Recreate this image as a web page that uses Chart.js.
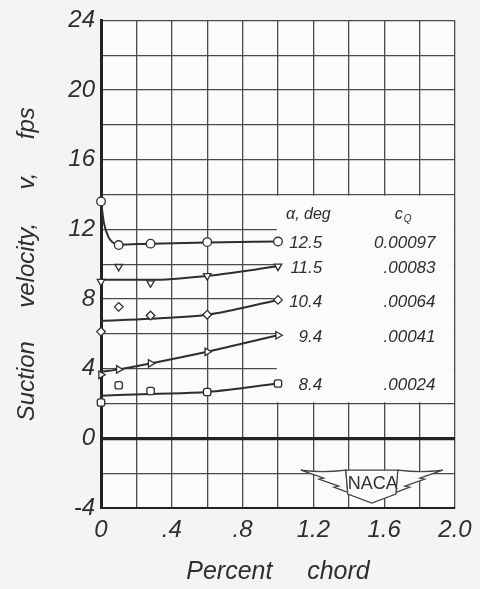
<!DOCTYPE html>
<html>
<head>
<meta charset="utf-8">
<script src="https://cdn.jsdelivr.net/npm/chart.js@4/dist/chart.umd.min.js"></script>
<style>
  html, body { margin: 0; padding: 0; background: #f4f4f3; }
  canvas { display: block; }
</style>
</head>
<body>
<canvas id="c" width="480" height="589"></canvas>
<script>
// ---- data ----
const markerX = [0, 0.1, 0.28, 0.6, 1.0];
const alphaLabels = ['12.5', '11.5', '10.4', '9.4', '8.4'];
const cqLabels = ['0.00097', '.00083', '.00064', '.00041', '.00024'];

const v125 = [13.6, 11.1, 11.18, 11.27, 11.3];
const v115 = [9.0, 9.86, 8.92, 9.33, 9.88];
const v104 = [6.13, 7.55, 7.05, 7.1, 7.95];
const v94  = [3.65, 3.96, 4.3, 4.97, 5.92];
const v84  = [2.06, 3.05, 2.72, 2.66, 3.15];

// faired curves
const fairX125 = [0, 0.016, 0.04, 0.067, 0.1, 0.28, 0.6, 1.0];
const fairV125 = [13.6, 12.4, 11.6, 11.25, 11.12, 11.18, 11.25, 11.3];
const fairX = [0, 0.28, 0.6, 1.0];
const fairV115 = [9.1, 9.1, 9.33, 9.88];
const fairV104 = [6.75, 6.87, 7.1, 7.95];
const fairX94 = [0, 0.1, 0.28, 0.6, 1.0];
const fairV94 = [3.82, 3.96, 4.3, 4.97, 5.92];
const fairV84 = [2.45, 2.55, 2.66, 3.15];

const xTickLabels = { '0': '0', '0.4': '.4', '0.8': '.8', '1.2': '1.2', '1.6': '1.6', '2': '2.0' };
const yTickValues = [-4, 0, 4, 8, 12, 16, 20, 24];

// ---- build ----
const INK = '#2e2e2e';
const FONT = '"Liberation Sans", Arial, sans-serif';
const pts = (xs, ys) => xs.map((x, i) => ({ x: x, y: ys[i] }));

const markerSets = [v125, v115, v104, v94, v84];
const markerStyles = [
  { style: 'circle', rot: 0 },
  { style: 'triangle', rot: 180 },
  { style: 'rectRot', rot: 0 },
  { style: 'triangle', rot: 90 },
  { style: 'rectRounded', rot: 0 }
];
const fairs = [
  pts(fairX125, fairV125),
  pts(fairX, fairV115),
  pts(fairX, fairV104),
  pts(fairX94, fairV94),
  pts(fairX, fairV84)
];

const datasets = [];
fairs.forEach(f => datasets.push({
  type: 'line', data: f, showLine: true, borderColor: INK, borderWidth: 2,
  pointRadius: 0, cubicInterpolationMode: 'monotone', fill: false, order: 2, clip: false
}));
markerSets.forEach((s, i) => datasets.push({
  type: 'scatter', data: pts(markerX, s), showLine: false,
  pointStyle: markerStyles[i].style, rotation: markerStyles[i].rot,
  pointRadius: 4.3, pointBackgroundColor: '#ffffff', pointBorderColor: INK,
  pointBorderWidth: 1.3, order: 1, clip: false
}));

const bgPlugin = {
  id: 'bg',
  beforeDraw(chart) {
    const { ctx, chartArea: a } = chart;
    ctx.save();
    ctx.fillStyle = '#f4f4f3';
    ctx.fillRect(0, 0, chart.width, chart.height);
    ctx.fillStyle = '#fbfbfa';
    ctx.fillRect(a.left, a.top, a.right - a.left, a.bottom - a.top);
    ctx.restore();
  },
  beforeDatasetsDraw(chart) {
    // blank panel for the key (grid interrupted there)
    const { ctx } = chart;
    const xs = chart.scales.x, ys = chart.scales.y;
    const l = xs.getPixelForValue(1.0) - 1.2, r = xs.getPixelForValue(2.0) - 1.2;
    const t = ys.getPixelForValue(14) + 1.2, b = ys.getPixelForValue(2) - 1.2;
    ctx.save();
    ctx.fillStyle = '#fbfbfa';
    ctx.fillRect(l, t, r - l, b - t);
    ctx.restore();
  },
  afterDatasetsDraw(chart) {
    const { ctx } = chart;
    const xs = chart.scales.x, ys = chart.scales.y;
    ctx.save();
    ctx.fillStyle = INK;
    ctx.textBaseline = 'middle';
    // header
    const hy = ys.getPixelForValue(12.85);
    ctx.font = 'italic 16px ' + FONT;
    ctx.textAlign = 'left';
    ctx.fillText('\u03B1, deg', xs.getPixelForValue(1.0) + 8, hy);
    ctx.fillText('c', xs.getPixelForValue(1.66), hy);
    ctx.font = 'italic 10px ' + FONT;
    ctx.fillText('Q', xs.getPixelForValue(1.66) + 9, hy + 5);
    // rows
    ctx.font = 'italic 17px ' + FONT;
    markerSets.forEach((s, i) => {
      const y = ys.getPixelForValue(s[s.length - 1]) + 2;
      ctx.textAlign = 'right';
      ctx.fillText(alphaLabels[i], xs.getPixelForValue(1.25), y);
      ctx.fillText(cqLabels[i], xs.getPixelForValue(1.89), y);
    });
    ctx.restore();
  },
  afterDraw(chart) {
    // NACA emblem
    const { ctx } = chart;
    const xs = chart.scales.x, ys = chart.scales.y;
    const cx = xs.getPixelForValue(1.53), cy = ys.getPixelForValue(-2.63);
    ctx.save();
    ctx.strokeStyle = '#444';
    ctx.lineWidth = 1.2;
    ctx.fillStyle = '#fbfbfa';
    for (const sgn of [-1, 1]) {
      ctx.beginPath();
      ctx.moveTo(cx + sgn * 71, cy - 14);
      ctx.quadraticCurveTo(cx + sgn * 50, cy - 11, cx + sgn * 26, cy - 14);
      ctx.lineTo(cx + sgn * 24, cy + 10);
      ctx.lineTo(cx + sgn * 12, cy + 13);
      ctx.lineTo(cx + sgn * 22, cy + 9);
      ctx.lineTo(cx + sgn * 38, cy + 3);
      ctx.lineTo(cx + sgn * 33, cy + 2);
      ctx.lineTo(cx + sgn * 53, cy - 5);
      ctx.lineTo(cx + sgn * 48, cy - 6);
      ctx.closePath();
      ctx.fill();
      ctx.stroke();
    }
    ctx.beginPath();
    ctx.moveTo(cx - 26, cy - 14);
    ctx.lineTo(cx + 26, cy - 14);
    ctx.lineTo(cx + 24, cy + 10);
    ctx.lineTo(cx, cy + 19);
    ctx.lineTo(cx - 24, cy + 10);
    ctx.closePath();
    ctx.fill();
    ctx.stroke();
    ctx.fillStyle = '#333';
    ctx.font = '18px ' + FONT;
    ctx.textAlign = 'center';
    ctx.textBaseline = 'middle';
    ctx.fillText('NACA', cx + 1, cy);
    ctx.restore();
  }
};

new Chart(document.getElementById('c'), {
  type: 'scatter',
  data: { datasets: datasets },
  options: {
    responsive: false,
    animation: false,
    events: [],
    layout: { padding: { top: 18, right: 25, left: 0, bottom: 0 } },
    plugins: { legend: { display: false }, tooltip: { enabled: false } },
    scales: {
      x: {
        type: 'linear', min: 0, max: 2,
        afterFit(scale) { scale.height = 81; },
        grid: { color: '#4a4a4a', lineWidth: 1.3, drawTicks: false },
        border: { color: '#222', width: 2 },
        ticks: {
          stepSize: 0.2, autoSkip: false, maxRotation: 0, padding: 8,
          color: INK, font: { family: FONT, size: 24, style: 'italic' },
          callback(v) {
            const k = String(Math.round(v * 10) / 10);
            return xTickLabels[k] !== undefined ? xTickLabels[k] : '';
          }
        },
        title: {
          display: true, text: 'Percent     chord', color: INK,
          font: { family: FONT, size: 25, style: 'italic' },
          padding: { top: 0, bottom: 2 }
        }
      },
      y: {
        type: 'linear', min: -4, max: 24,
        afterFit(scale) { scale.width = 101; },
        grid: {
          color: ctx => (ctx.tick && ctx.tick.value === 0) ? '#222' : '#4a4a4a',
          lineWidth: ctx => (ctx.tick && ctx.tick.value === 0) ? 3.2 : 1.3,
          drawTicks: false
        },
        border: { color: '#222', width: 3 },
        ticks: {
          stepSize: 2, autoSkip: false, padding: 6,
          color: INK, font: { family: FONT, size: 24, style: 'italic' },
          callback(v) { return yTickValues.includes(v) ? String(v) : ''; }
        },
        title: {
          display: true, text: 'Suction     velocity,     v,     fps', color: INK,
          font: { family: FONT, size: 24, style: 'italic' },
          padding: { top: 13, bottom: 0 }
        }
      }
    }
  },
  plugins: [bgPlugin]
});
</script>
</body>
</html>
